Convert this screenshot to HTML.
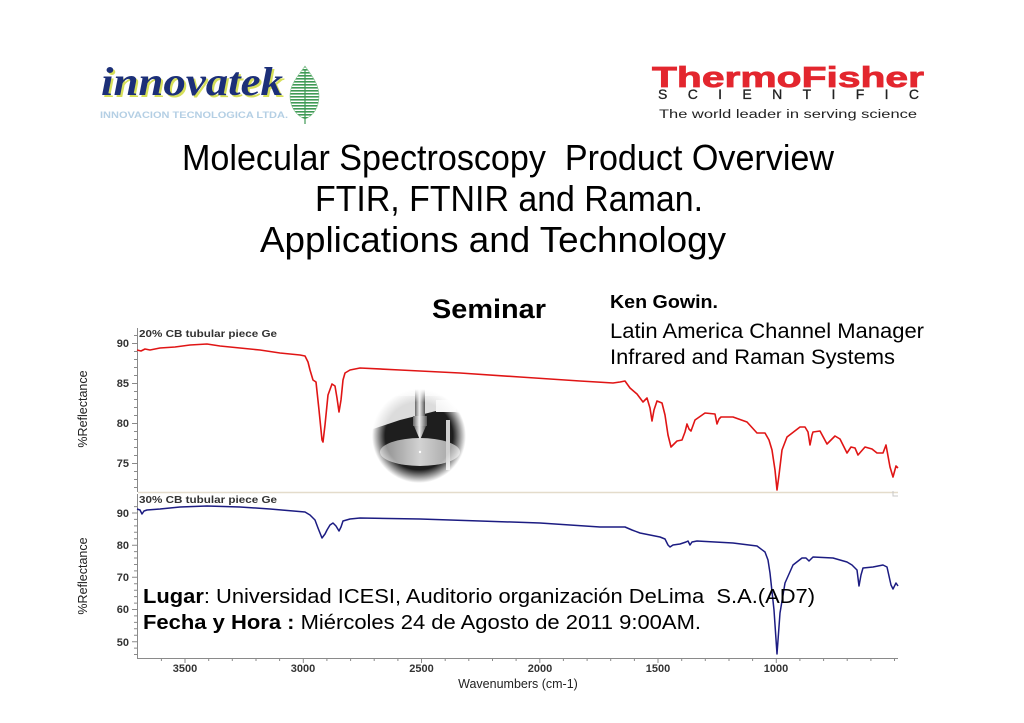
<!DOCTYPE html>
<html><head><meta charset="utf-8"><style>
html,body{margin:0;padding:0;background:#fff;}
svg{display:block;}
text{font-family:"Liberation Sans",sans-serif;}
</style></head><body>
<svg width="1024" height="723" viewBox="0 0 1024 723" xmlns="http://www.w3.org/2000/svg">
<defs>
<pattern id="stripes" width="4" height="3" patternUnits="userSpaceOnUse">
<rect width="4" height="3" fill="#ffffff"/><rect width="4" height="1.6" fill="#3f9a55"/>
</pattern>
<radialGradient id="fade" cx="0.5" cy="0.5" r="0.5">
<stop offset="0.72" stop-color="#fff"/><stop offset="1" stop-color="#000"/>
</radialGradient>
<mask id="cm"><circle cx="419" cy="436" r="47" fill="url(#fade)"/></mask>
<linearGradient id="disc" x1="0" y1="0" x2="1" y2="0">
<stop offset="0" stop-color="#8a8a8a"/><stop offset="0.5" stop-color="#d2d2d2"/><stop offset="1" stop-color="#9a9a9a"/>
</linearGradient>
<linearGradient id="probe" x1="0" y1="0" x2="1" y2="0">
<stop offset="0" stop-color="#666"/><stop offset="0.45" stop-color="#eee"/><stop offset="1" stop-color="#555"/>
</linearGradient>
</defs>

<!-- innovatek logo -->
<text x="103" y="97" font-weight="bold" font-style="italic" font-size="40" fill="#d6df5a" textLength="182" lengthAdjust="spacingAndGlyphs" style="font-family:'Liberation Serif',serif">innovatek</text>
<text x="101" y="95" font-weight="bold" font-style="italic" font-size="40" fill="#1c2f78" textLength="182" lengthAdjust="spacingAndGlyphs" style="font-family:'Liberation Serif',serif">innovatek</text>
<text x="100" y="118" font-size="9" font-weight="bold" fill="#b4cfe4" textLength="188" lengthAdjust="spacingAndGlyphs">INNOVACION TECNOLOGICA LTDA.</text>
<path d="M305,66 C298,76 290,84 290,96 C290,108 297,116 305,119 C313,116 319,108 319,96 C319,84 312,76 305,66 Z" fill="url(#stripes)" stroke="#7fbf8a" stroke-width="0.6"/>
<line x1="305" y1="70" x2="305" y2="124" stroke="#3f9a55" stroke-width="1.2"/>

<!-- Thermo Fisher logo -->
<text x="652" y="87" font-weight="bold" font-size="29" fill="#e3262e" stroke="#e3262e" stroke-width="0.8" textLength="272" lengthAdjust="spacingAndGlyphs">ThermoFisher</text>
<text x="658" y="99" font-size="14" fill="#222" stroke="#222" stroke-width="0.3" textLength="261" lengthAdjust="spacing">SCIENTIFIC</text>
<text x="659" y="118" font-size="11.5" fill="#222" textLength="258" lengthAdjust="spacingAndGlyphs">The world leader in serving science</text>

<!-- Title -->
<g fill="#000" font-size="36">
<text x="182" y="170" textLength="652" lengthAdjust="spacingAndGlyphs" xml:space="preserve">Molecular Spectroscopy  Product Overview</text>
<text x="315" y="211" textLength="388" lengthAdjust="spacingAndGlyphs">FTIR, FTNIR and Raman.</text>
<text x="260" y="252" textLength="466" lengthAdjust="spacingAndGlyphs">Applications and Technology</text>
</g>

<!-- Chart axes -->
<g stroke="#8a8a8a" stroke-width="1" fill="none">
<line x1="137.5" y1="328" x2="137.5" y2="492"/>
<line x1="137.5" y1="494" x2="137.5" y2="658"/>
<line x1="137" y1="658.5" x2="898" y2="658.5"/>
<path d="M134,335.5h3M134,351.5h3M134,359.5h3M134,367.5h3M134,375.5h3M134,391.5h3M134,399.5h3M134,407.5h3M134,415.5h3M134,431.5h3M134,439.5h3M134,447.5h3M134,455.5h3M134,471.5h3M134,479.5h3M134,487.5h3"/>
<path d="M132,343.5h5M132,383.5h5M132,423.5h5M132,463.5h5"/>
<path d="M134,506.6h3M134,519.4h3M134,525.9h3M134,532.3h3M134,538.7h3M134,551.6h3M134,558h3M134,564.5h3M134,570.9h3M134,583.8h3M134,590.2h3M134,596.6h3M134,603.1h3M134,615.9h3M134,622.4h3M134,628.8h3M134,635.2h3M134,648.1h3M134,654.5h3"/>
<path d="M132,513h5M132,545.2h5M132,577.3h5M132,609.5h5M132,641.7h5"/>
<path d="M161.4,658v3M208.7,658v3M232.3,658v3M256,658v3M279.6,658v3M326.9,658v3M350.6,658v3M374.2,658v3M397.9,658v3M445.2,658v3M468.8,658v3M492.5,658v3M516.1,658v3M563.4,658v3M587.1,658v3M610.7,658v3M634.4,658v3M681.7,658v3M705.3,658v3M729,658v3M752.6,658v3M799.9,658v3M823.6,658v3M847.2,658v3M870.9,658v3M894.5,658v3"/>
<path d="M185,658v5M303.3,658v5M421.5,658v5M539.8,658v5M658,658v5M776.3,658v5"/>
</g>
<line x1="138" y1="492.5" x2="898" y2="492.5" stroke="#e4dccb" stroke-width="1.5"/>
<path d="M893,491v5h5" stroke="#c8c8c8" fill="none" stroke-width="1"/>

<!-- tick labels -->
<g font-size="11" font-weight="bold" fill="#333" text-anchor="end">
<text x="129" y="347">90</text><text x="129" y="387">85</text><text x="129" y="427">80</text><text x="129" y="467">75</text>
<text x="129" y="517">90</text><text x="129" y="549">80</text><text x="129" y="581">70</text><text x="129" y="613">60</text><text x="129" y="646">50</text>
</g>
<g font-size="11" font-weight="bold" fill="#333" text-anchor="middle">
<text x="185" y="672">3500</text><text x="303" y="672">3000</text><text x="421.5" y="672">2500</text><text x="540" y="672">2000</text><text x="658" y="672">1500</text><text x="776" y="672">1000</text>
</g>
<text x="518" y="688" font-size="12.5" fill="#222" text-anchor="middle">Wavenumbers (cm-1)</text>
<text transform="translate(87,409) rotate(-90)" font-size="12.5" fill="#222" text-anchor="middle">%Reflectance</text>
<text transform="translate(87,576) rotate(-90)" font-size="12.5" fill="#222" text-anchor="middle">%Reflectance</text>
<text x="139" y="337" font-size="10" font-weight="bold" fill="#333" textLength="138" lengthAdjust="spacingAndGlyphs">20% CB tubular piece Ge</text>
<text x="139" y="503" font-size="10" font-weight="bold" fill="#333" textLength="138" lengthAdjust="spacingAndGlyphs">30% CB tubular piece Ge</text>

<!-- red spectrum -->
<polyline fill="none" stroke="#e01515" stroke-width="1.6" stroke-linejoin="round" points="137,350 141,351 145,349 150,350 155,349 160,348 175,347 190,345 207,344 220,346 240,348 260,350 280,353 300,355 305,356 308,362 310,370 313,380 316,382 319,410 322,440 323,442 325,425 328,395 332,384 335,386 337,398 339,412 341,400 343,380 345,373 350,370 360,368 400,370 460,373 520,377 580,381 613,383 620,382 625,381 630,388 637,394 643,402 647,398 650,408 652,421 654,410 657,401 662,403 665,415 668,435 671,447 677,441 682,440 685,432 687,424 689,429 691,431 695,420 705,413 715,414 717,424 719,419 721,417 733,417 747,422 757,433 765,433 769,440 772,450 775,470 777,490 779,475 782,450 787,437 800,427 805,427 808,432 810,445 812,435 813,432 820,431 827,444 835,436 840,439 847,453 851,447 855,448 858,455 865,447 872,449 877,453 883,453 886,445 890,467 893,477 896,466 898,468"/>

<!-- blue spectrum -->
<polyline fill="none" stroke="#1c1c82" stroke-width="1.5" stroke-linejoin="round" points="137,509 140,510 142,514 144,511 147,510 160,509 180,507 207,506 240,507 270,509 305,512 310,515 315,520 318,528 322,538 325,534 327,530 330,525 333,523 336,526 339,531 341,527 343,521 350,519 360,518 420,519 480,521 540,523 600,527 625,527 632,530 640,533 660,537 665,539 668,545 670,547 673,545 680,544 686,542 688,541 690,545 692,542 697,541 733,543 757,546 765,552 768,560 770,573 774,610 777,654 780,613 783,595 785,583 793,565 802,558 806,558 809,561 813,557 833,558 847,562 852,565 857,570 859,586 861,575 863,568 873,567 883,565 887,567 891,585 893,589 896,583 898,586"/>

<!-- circular photo -->
<g mask="url(#cm)">
<rect x="370" y="386" width="100" height="100" fill="#1e1e1e"/>
<path d="M370,386 H470 V414 L440,410 L400,420 L370,430 Z" fill="#dcdcdc"/>
<path d="M436,400 h20 v12 h-20 z" fill="#f4f4f4"/>
<path d="M370,386 H470 V396 H370 Z" fill="#efefef"/>
<ellipse cx="420" cy="452" rx="40" ry="14" fill="url(#disc)"/>
<rect x="446" y="420" width="4" height="50" fill="#cfcfcf"/>
<rect x="415" y="388" width="10" height="30" fill="url(#probe)"/>
<rect x="413" y="416" width="14" height="10" fill="url(#probe)"/>
<polygon points="414,426 426,426 420,440" fill="url(#probe)"/>
<circle cx="420" cy="452" r="1.2" fill="#fff"/>
</g>

<!-- Seminar / presenter -->
<text x="432" y="318" font-size="27" font-weight="bold" fill="#000" textLength="114" lengthAdjust="spacingAndGlyphs">Seminar</text>
<text x="610" y="308" font-size="18" font-weight="bold" fill="#000" textLength="108" lengthAdjust="spacingAndGlyphs">Ken Gowin.</text>
<text x="610" y="338" font-size="21.5" fill="#000" textLength="314" lengthAdjust="spacingAndGlyphs">Latin America Channel Manager</text>
<text x="610" y="364" font-size="21.5" fill="#000" textLength="285" lengthAdjust="spacingAndGlyphs">Infrared and Raman Systems</text>

<!-- Lugar / Fecha -->
<text x="143" y="603" font-size="20.5" fill="#000" textLength="672" lengthAdjust="spacingAndGlyphs" xml:space="preserve"><tspan font-weight="bold">Lugar</tspan>: Universidad ICESI, Auditorio organización DeLima  S.A.(AD7)</text>
<text x="143" y="629" font-size="20.5" fill="#000" textLength="558" lengthAdjust="spacingAndGlyphs"><tspan font-weight="bold">Fecha y Hora :</tspan> Miércoles 24 de Agosto de 2011 9:00AM.</text>
</svg>
</body></html>
